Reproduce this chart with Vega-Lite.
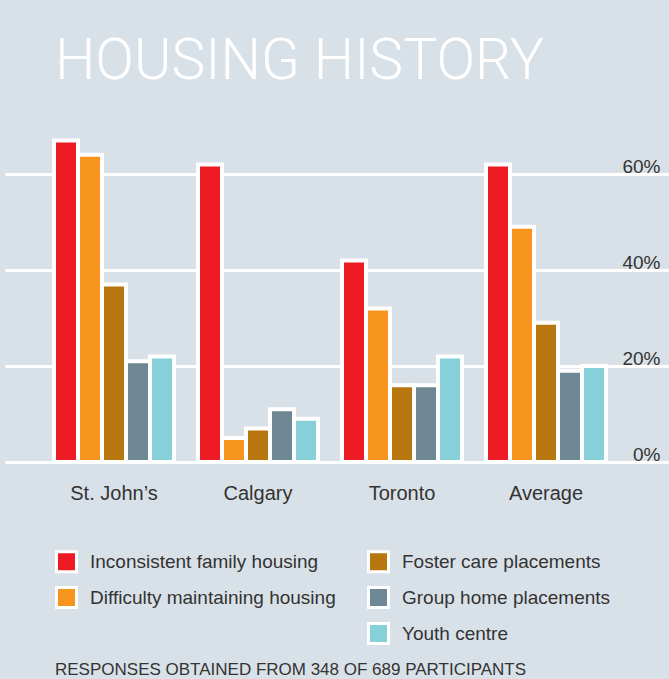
{
  "$schema": "https://vega.github.io/schema/vega-lite/v6.json",
  "width": 664,
  "height": 336,
  "autosize": {"type": "none"},
  "padding": {"left": 5, "top": 126, "right": 0, "bottom": 217},
  "background": "#d9e1e8",
  "title": {
    "text": "HOUSING HISTORY",
    "anchor": "start",
    "frame": "group",
    "dx": 50,
    "offset": 35,
    "font": "Roboto",
    "fontWeight": 300,
    "fontSize": 57,
    "color": "white"
  },
  "data": {
    "values": [
      {"city": "St. John’s", "series": "Inconsistent family housing", "pct": 67},
      {"city": "St. John’s", "series": "Difficulty maintaining housing", "pct": 64},
      {"city": "St. John’s", "series": "Foster care placements", "pct": 37},
      {"city": "St. John’s", "series": "Group home placements", "pct": 21},
      {"city": "St. John’s", "series": "Youth centre", "pct": 22},
      {"city": "Calgary", "series": "Inconsistent family housing", "pct": 62},
      {"city": "Calgary", "series": "Difficulty maintaining housing", "pct": 5},
      {"city": "Calgary", "series": "Foster care placements", "pct": 7},
      {"city": "Calgary", "series": "Group home placements", "pct": 11},
      {"city": "Calgary", "series": "Youth centre", "pct": 9},
      {"city": "Toronto", "series": "Inconsistent family housing", "pct": 42},
      {"city": "Toronto", "series": "Difficulty maintaining housing", "pct": 32},
      {"city": "Toronto", "series": "Foster care placements", "pct": 16},
      {"city": "Toronto", "series": "Group home placements", "pct": 16},
      {"city": "Toronto", "series": "Youth centre", "pct": 22},
      {"city": "Average", "series": "Inconsistent family housing", "pct": 62},
      {"city": "Average", "series": "Difficulty maintaining housing", "pct": 49},
      {"city": "Average", "series": "Foster care placements", "pct": 29},
      {"city": "Average", "series": "Group home placements", "pct": 19},
      {"city": "Average", "series": "Youth centre", "pct": 20}
    ]
  },
  "mark": {"type": "bar", "stroke": "white", "strokeWidth": 4, "strokeJoin": "miter"},
  "encoding": {
    "x": {
      "field": "city",
      "type": "nominal",
      "sort": ["St. John’s", "Calgary", "Toronto", "Average"],
      "scale": {"paddingInner": 0.166667, "paddingOuter": 0.388889, "align": 0.4375},
      "axis": {
        "title": null,
        "domain": false,
        "ticks": false,
        "tickSize": 0,
        "labelAngle": 0,
        "labelFontSize": 20,
        "labelColor": "#333333",
        "labelBaseline": "alphabetic",
        "labelPadding": 37,
        "grid": false
      }
    },
    "xOffset": {
      "field": "series",
      "type": "nominal",
      "sort": ["Inconsistent family housing", "Difficulty maintaining housing", "Foster care placements", "Group home placements", "Youth centre"],
      "scale": {"paddingInner": 0, "paddingOuter": 0}
    },
    "y": {
      "field": "pct",
      "type": "quantitative",
      "scale": {"domain": [0, 70], "nice": false},
      "axis": {
        "title": null,
        "orient": "right",
        "values": [0, 20, 40, 60],
        "labelExpr": "datum.value + '%'",
        "domain": false,
        "ticks": false,
        "tickSize": 0,
        "labelPadding": -9,
        "labelAlign": "right",
        "labelBaseline": "alphabetic",
        "labelOffset": -2,
        "labelFontSize": 19,
        "labelColor": "#333333",
        "grid": true,
        "gridColor": "white",
        "gridWidth": 3,
        "gridOpacity": 1
      }
    },
    "color": {
      "field": "series",
      "type": "nominal",
      "scale": {
        "domain": ["Inconsistent family housing", "Difficulty maintaining housing", " ", "Foster care placements", "Group home placements", "Youth centre"],
        "range": ["#ed1c24", "#f7941d", "#d9e1e8", "#b8760f", "#6d8795", "#86d1d9"]
      },
      "legend": {
        "orient": "none",
        "legendX": 50,
        "legendY": 424,
        "columns": 2,
        "title": "RESPONSES OBTAINED FROM 348 OF 689 PARTICIPANTS",
        "titleOrient": "bottom",
        "titleAnchor": "start",
        "titleFontSize": 17,
        "titleFontWeight": "normal",
        "titleColor": "#333333",
        "titleLimit": 700,
        "titlePadding": 12,
        "symbolType": "square",
        "symbolSize": 400,
        "symbolStrokeColor": "white",
        "symbolStrokeWidth": 3,
        "symbolOpacity": 1,
        "labelFontSize": 19,
        "labelColor": "#333333",
        "labelLimit": 400,
        "labelOffset": 12,
        "rowPadding": 3,
        "columnPadding": 26,
        "encode": {"symbols": {"update": {"opacity": {"signal": "datum.label === ' ' ? 0 : 1"}}}}
      }
    }
  },
  "config": {
    "view": {"stroke": null},
    "font": "Liberation Sans"
  }
}
